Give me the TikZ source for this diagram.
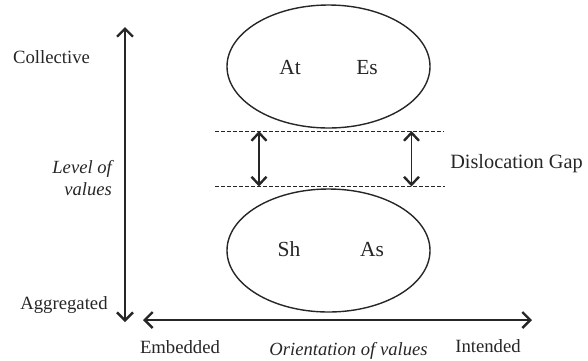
\documentclass[tikz,border=0pt]{standalone}
\usepackage{fontspec}
\setmainfont{Liberation Serif}
\usetikzlibrary{arrows.meta,shapes.geometric}
\definecolor{ink}{HTML}{262626}
\tikzset{
  lbl/.style={anchor=base, inner sep=0pt, text=ink, font=\fontsize{18.7}{22.4}\selectfont},
  ilbl/.style={lbl, font=\fontsize{18.6}{22}\selectfont\itshape},
  elbl/.style={anchor=base, inner sep=0pt, text=ink, font=\fontsize{21.5}{24}\selectfont},
  oval/.style={draw=ink, ellipse, line width=1.4pt, minimum width=203pt, minimum height=123pt, inner sep=0pt},
  axis/.style={draw=ink, line width=1.8pt, {Straight Barb[length=8pt,width=16pt,line width=2.4pt]}-{Straight Barb[length=8pt,width=16pt,line width=2.4pt]}},
  gaparrow/.style={draw=ink, line width=1.3pt, {Straight Barb[length=8pt,width=15pt,line width=2.4pt]}-{Straight Barb[length=8pt,width=15pt,line width=2.4pt]}},
  gapline/.style={draw=ink, line width=0.9pt, dash pattern=on 4pt off 2pt},
}
\begin{document}
\begin{tikzpicture}[x=1pt,y=-1pt]
\useasboundingbox (0,0) rectangle (588,360);
% ovals
\node[oval] (top) at (328.5,66.5) {};
\node[oval] (bot) at (328.5,250.5) {};
\node[elbl] (at) at (290,74) {At};
\node[elbl] (es) at (367,74) {Es};
\node[elbl] (sh) at (289,256) {Sh};
\node[elbl] (as) at (372,256) {As};
% axes
\coordinate (vtop) at (125,27);
\coordinate (vbot) at (125,322);
\coordinate (hl) at (143,320);
\coordinate (hr) at (532,320);
\draw[axis] (vbot) -- (vtop);
\draw[axis] (hl) -- (hr);
% gap lines
\coordinate (g1l) at (215,131);
\coordinate (g1r) at (444,131);
\coordinate (g2l) at (215,186.5);
\coordinate (g2r) at (445,186.5);
\draw[gapline] (g1l) -- (g1r);
\draw[gapline] (g2l) -- (g2r);
\coordinate (a1t) at (259,131);
\coordinate (a1b) at (259,186.5);
\coordinate (a2t) at (411.5,131);
\coordinate (a2b) at (411.5,186.5);
\draw[gaparrow] (a1t) -- (a1b);
\draw[gaparrow] (a2t) -- (a2b);
% labels
\node[lbl] (coll) at (51.5,63) {Collective};
\node[ilbl, anchor=base east, align=right] (lev) at (112,195) {Level of\\values};
\node[lbl] (agg) at (64,309) {Aggregated};
\node[lbl] (emb) at (180,353) {Embedded};
\node[ilbl] (ori) at (348.5,355) {Orientation of values};
\node[lbl] (int) at (488,352) {Intended};
\node[lbl, font=\fontsize{20.3}{24}\selectfont] (gap) at (516.5,168.5) {Dislocation Gap};
\end{tikzpicture}
\end{document}
